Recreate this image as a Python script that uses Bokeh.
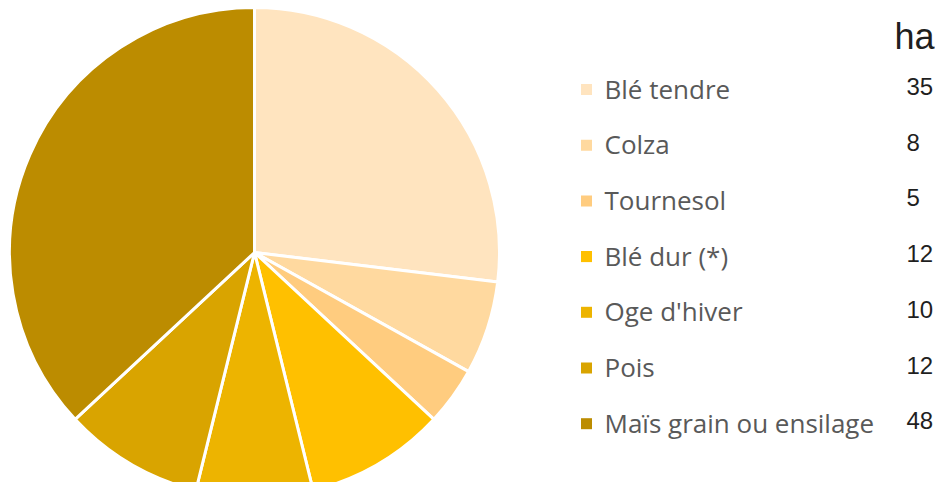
import math
from bokeh.plotting import figure
from bokeh.models import Range1d, ColumnDataSource
from bokeh.core.properties import value
from bokeh.embed import file_html
from bokeh.resources import INLINE

categories = ["Blé tendre", "Colza", "Tournesol", "Blé dur (*)", "Oge d'hiver", "Pois", "Maïs grain ou ensilage"]
hectares = [35, 8, 5, 12, 10, 12, 48]
colors = ["#FFE4BF", "#FFD99F", "#FFCC7F", "#FFC000", "#EDB400", "#D9A400", "#BC8C00"]
unit_label = "ha"

W, H = 935, 482

def wy(y):
    # screen pixel y (down) -> data y (up)
    return H - y

p = figure(width=W, height=H, output_backend="svg", toolbar_location=None,
           x_range=Range1d(0, W), y_range=Range1d(0, H),
           min_border=0, border_fill_color="white", background_fill_color="white")
p.axis.visible = False
p.grid.visible = False
p.outline_line_color = None

total = sum(hectares)
cum = [0]
for v in hectares:
    cum.append(cum[-1] + v)
starts = [math.pi / 2 - cum[i + 1] / total * 2 * math.pi for i in range(len(hectares))]
ends = [math.pi / 2 - cum[i] / total * 2 * math.pi for i in range(len(hectares))]

cx, cy, r = 254, wy(252), 245
src = ColumnDataSource(dict(start=starts, end=ends, color=colors))
p.wedge(x=cx, y=cy, radius=r, start_angle="start", end_angle="end", source=src,
        fill_color="color", line_color="white", line_width=3)

row0, step = 88, 55.7
idx = range(len(categories))
leg = ColumnDataSource(dict(
    ysq=[wy(row0 + 1 + i * step) for i in idx],
    ylab=[wy(row0 + i * step) for i in idx],
    yval=[wy(row0 - 2 + i * step) for i in idx],
    cat=categories, val=[str(v) for v in hectares], color=colors))
p.scatter(x=586, y="ysq", marker="square", size=11, fill_color="color", line_color=None, source=leg)
p.text(x=604, y="ylab", text="cat", source=leg, text_font=value("Open Sans"), text_font_size="26px",
       text_color="#595959", text_baseline="middle", text_align="left")
p.text(x=906, y="yval", text="val", source=leg, text_font=value("Liberation Sans"), text_font_size="24px",
       text_color="#1F1F1F", text_baseline="middle", text_align="left")
p.text(x=[894], y=[wy(36)], text=[unit_label], text_font=value("Liberation Sans"), text_font_size="36px",
       text_color="#1F1F1F", text_baseline="middle", text_align="left")

open("out.html", "w").write(file_html(p, INLINE))
